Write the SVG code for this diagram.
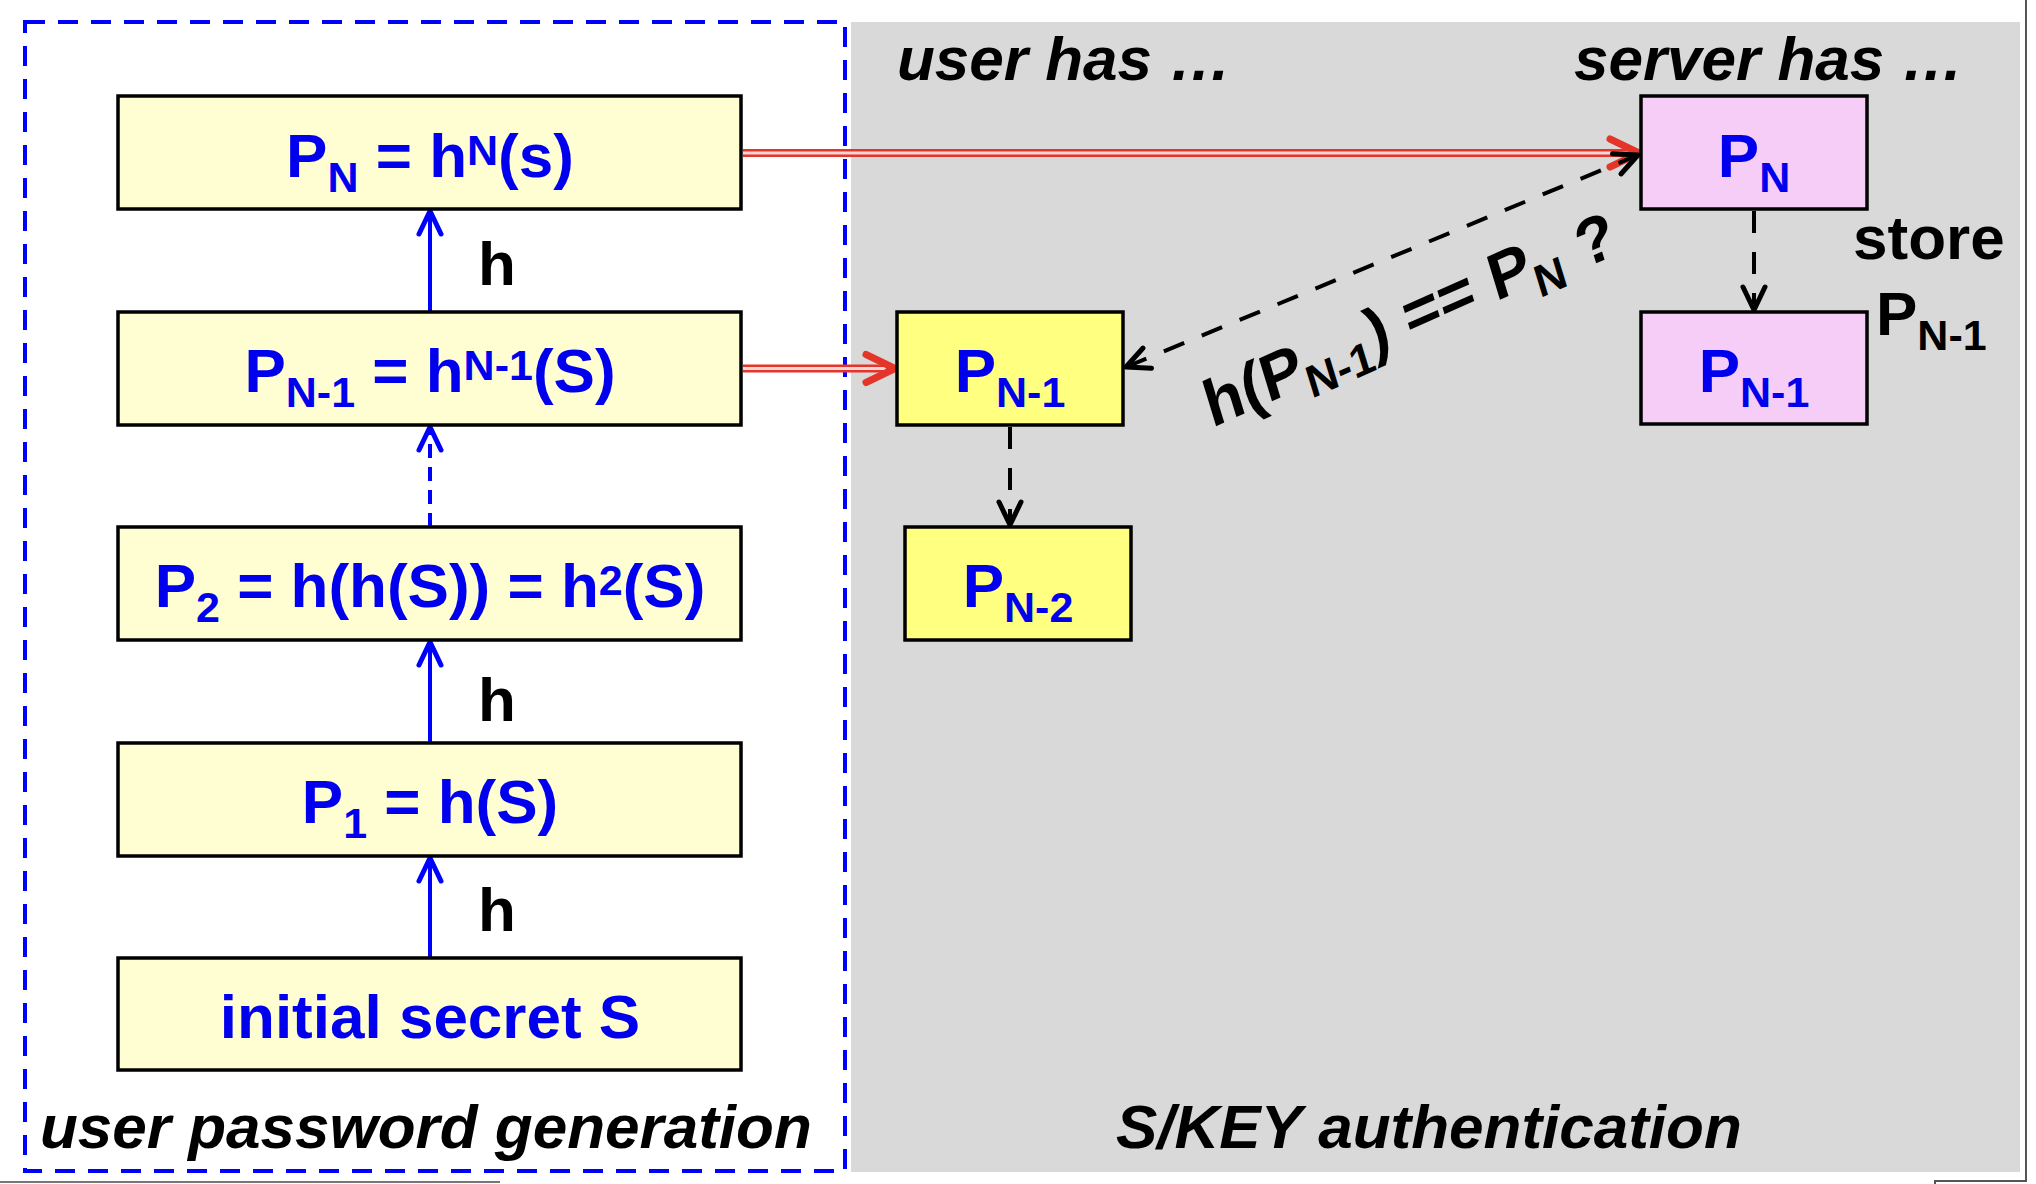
<svg xmlns="http://www.w3.org/2000/svg" width="2036" height="1184" viewBox="0 0 2036 1184">
<defs>
<style>
.box{stroke:#000;stroke-width:3.5}
.lb{fill:#FFFDD2}
.yb{fill:#FFFF80}
.pb{fill:#F6CDF6}
.bt{font-family:"Liberation Sans",Arial,sans-serif;font-weight:bold;fill:#0000EE;font-size:62px;text-anchor:middle}
.kt{font-family:"Liberation Sans",Arial,sans-serif;font-weight:bold;fill:#000;font-size:62px}
.it{font-style:italic}
.s{font-size:43px}
.blue{stroke:#0000FF;stroke-width:4;fill:none}
.blk{stroke:#000;stroke-width:4;fill:none;stroke-dasharray:22 19}
.ck{font-size:65px}
.cs{font-size:45px}
</style>
<marker id="ab" markerUnits="userSpaceOnUse" viewBox="-30 -16 34 32" markerWidth="34" markerHeight="32" refX="0" refY="0" orient="auto" overflow="visible">
<path d="M-23,-11 L0,0 L-23,11" fill="none" stroke="#0000FF" stroke-width="5" stroke-linecap="round" stroke-linejoin="round"/>
</marker>
<marker id="ak" markerUnits="userSpaceOnUse" viewBox="-30 -16 34 32" markerWidth="34" markerHeight="32" refX="0" refY="0" orient="auto-start-reverse" overflow="visible">
<path d="M-23,-11 L0,0 L-23,11" fill="none" stroke="#000" stroke-width="5" stroke-linecap="round" stroke-linejoin="round"/>
</marker>
<marker id="ar" markerUnits="userSpaceOnUse" viewBox="-36 -18 40 36" markerWidth="40" markerHeight="36" refX="0" refY="0" orient="auto" overflow="visible">
<path d="M-29,-14 L0,0 L-29,14" fill="none" stroke="#E5352A" stroke-width="7" stroke-linecap="round" stroke-linejoin="round"/>
</marker>
</defs>

<rect width="2036" height="1184" fill="#FFFFFF"/>

<g id="panel-auth">
<rect x="851" y="22" width="1169" height="1150" fill="#D9D9D9"/>
<text class="kt it" x="897" y="80">user has …</text>
<text class="kt it" x="1574" y="80">server has …</text>
<text class="kt it" x="1116" y="1148">S/KEY authentication</text>
</g>

<g id="panel-gen">
<rect x="25" y="22" width="820" height="1149" fill="none" stroke="#0000FF" stroke-width="4" stroke-dasharray="20 13"/>
<text class="kt it" x="40" y="1148">user password generation</text>
</g>

<g id="frame" stroke="#555" stroke-width="2" fill="none">
<line x1="2026" y1="0" x2="2026" y2="1182"/>
<polyline points="1935,1184 1935,1181 2026,1181"/>
<line x1="0" y1="1182" x2="500" y2="1182" stroke="#777"/>
</g>

<g id="connectors">
<line class="blue" x1="430" y1="312" x2="430" y2="211" marker-end="url(#ab)"/>
<line class="blue" x1="430" y1="527" x2="430" y2="427" stroke-dasharray="14 9" marker-end="url(#ab)"/>
<line class="blue" x1="430" y1="743" x2="430" y2="642" marker-end="url(#ab)"/>
<line class="blue" x1="430" y1="958" x2="430" y2="858" marker-end="url(#ab)"/>
<g id="red-top">
<line x1="743" y1="153" x2="1636" y2="153" stroke="#E5352A" stroke-width="8"/>
<line x1="743" y1="153" x2="1630" y2="153" stroke="#F6D6D4" stroke-width="3"/>
<line x1="1630" y1="153" x2="1639" y2="153" stroke="none" marker-end="url(#ar)"/>
</g>
<g id="red-mid">
<line x1="743" y1="368.5" x2="892" y2="368.5" stroke="#E5352A" stroke-width="8"/>
<line x1="743" y1="368.5" x2="886" y2="368.5" stroke="#F6D6D4" stroke-width="3"/>
<line x1="886" y1="368.5" x2="895" y2="368.5" stroke="none" marker-end="url(#ar)"/>
</g>
<line class="blk" x1="1010" y1="427" x2="1010" y2="525" marker-end="url(#ak)"/>
<line class="blk" x1="1754" y1="211" x2="1754" y2="310" marker-end="url(#ak)"/>
<line class="blk" x1="1126" y1="367" x2="1638" y2="155" marker-start="url(#ak)" marker-end="url(#ak)"/>
</g>

<g id="n-pn">
<rect class="box lb" x="118" y="96" width="623" height="113"/>
<text class="bt" x="430" y="177">P<tspan class="s" dy="15">N</tspan><tspan dy="-15"> = h</tspan><tspan class="s" dy="-12">N</tspan><tspan dy="12">(s)</tspan></text>
</g>
<g id="n-pn1">
<rect class="box lb" x="118" y="312" width="623" height="113"/>
<text class="bt" x="430" y="392">P<tspan class="s" dy="15">N-1</tspan><tspan dy="-15"> = h</tspan><tspan class="s" dy="-12">N-1</tspan><tspan dy="12">(S)</tspan></text>
</g>
<g id="n-p2">
<rect class="box lb" x="118" y="527" width="623" height="113"/>
<text class="bt" x="430" y="607">P<tspan class="s" dy="15">2</tspan><tspan dy="-15"> = h(h(S)) = h</tspan><tspan class="s" dy="-12">2</tspan><tspan dy="12">(S)</tspan></text>
</g>
<g id="n-p1">
<rect class="box lb" x="118" y="743" width="623" height="113"/>
<text class="bt" x="430" y="823">P<tspan class="s" dy="15">1</tspan><tspan dy="-15"> = h(S)</tspan></text>
</g>
<g id="n-init">
<rect class="box lb" x="118" y="958" width="623" height="112"/>
<text class="bt" x="430" y="1038">initial secret S</text>
</g>

<g id="h-labels">
<text class="kt" x="478" y="285">h</text>
<text class="kt" x="478" y="721">h</text>
<text class="kt" x="478" y="931">h</text>
</g>

<g id="u-pn1">
<rect class="box yb" x="897" y="312" width="226" height="113"/>
<text class="bt" x="1010" y="392">P<tspan class="s" dy="15">N-1</tspan></text>
</g>
<g id="u-pn2">
<rect class="box yb" x="905" y="527" width="226" height="113"/>
<text class="bt" x="1018" y="607">P<tspan class="s" dy="15">N-2</tspan></text>
</g>
<g id="s-pn">
<rect class="box pb" x="1641" y="96" width="226" height="113"/>
<text class="bt" x="1754" y="177">P<tspan class="s" dy="15">N</tspan></text>
</g>
<g id="s-pn1">
<rect class="box pb" x="1641" y="312" width="226" height="112"/>
<text class="bt" x="1754" y="392">P<tspan class="s" dy="15">N-1</tspan></text>
</g>

<g id="store-label">
<text class="kt" x="1853" y="259">store</text>
<text class="kt" x="1876" y="335">P<tspan class="s" dy="15">N-1</tspan></text>
</g>

<g id="check-label" transform="matrix(0.9135,-0.4067,0.2924,0.9563,1212,428)">
<text class="kt ck" x="0" y="0">h(P<tspan class="cs" dy="14">N-1</tspan><tspan dy="-14">) == P</tspan><tspan class="cs" dy="15">N</tspan><tspan dy="-9"> ?</tspan></text>
</g>
</svg>
